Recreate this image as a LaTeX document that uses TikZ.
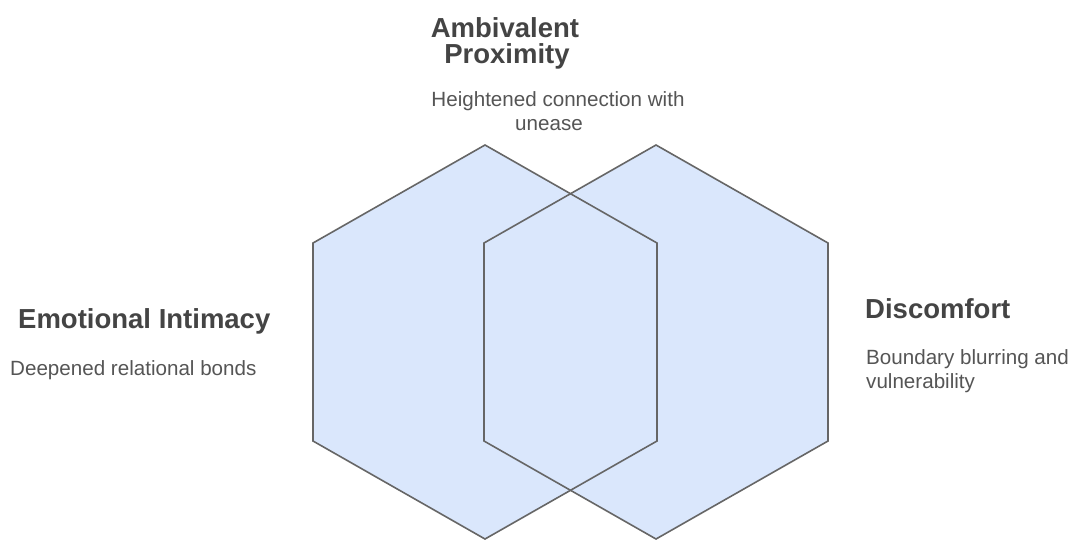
\documentclass[tikz,border=0pt]{standalone}
\usepackage{fontspec}
\setmainfont{Liberation Sans}
\definecolor{hexfill}{HTML}{DAE7FC}
\definecolor{hexline}{HTML}{666666}
\definecolor{titlecol}{HTML}{444444}
\definecolor{desccol}{HTML}{555555}
\tikzset{
  hexshape/.style={draw=hexline, line width=1.6pt, line join=miter},
  titletext/.style={font=\fontsize{27.5}{27}\selectfont\bfseries, text=titlecol, inner sep=0pt, anchor=base west},
  desctext/.style={font=\fontsize{20.6}{24}\selectfont, text=desccol, inner sep=0pt, anchor=base west},
}
\begin{document}
\begin{tikzpicture}[x=1pt, y=-1pt]
  \useasboundingbox (0,0) rectangle (1073,539);
  \fill[white] (0,0) rectangle (1073,539);

  % hexagon corners (pointy top), left and right
  \foreach \n/\cx in {l/485, r/656} {
    \coordinate (\n1) at (\cx,145);
    \coordinate (\n2) at (\cx+172,243);
    \coordinate (\n3) at (\cx+172,441);
    \coordinate (\n4) at (\cx,539);
    \coordinate (\n5) at (\cx-172,441);
    \coordinate (\n6) at (\cx-172,243);
  }

  % fills first, outlines on top so both edges show in the overlap
  \fill[hexfill] (l1) -- (l2) -- (l3) -- (l4) -- (l5) -- (l6) -- cycle;
  \fill[hexfill] (r1) -- (r2) -- (r3) -- (r4) -- (r5) -- (r6) -- cycle;
  \draw[hexshape] (l1) -- (l2) -- (l3) -- (l4) -- (l5) -- (l6) -- cycle;
  \draw[hexshape] (r1) -- (r2) -- (r3) -- (r4) -- (r5) -- (r6) -- cycle;

  % top label
  \node[titletext, anchor=base] (ambA) at (505,37) {Ambivalent};
  \node[titletext, anchor=base] (ambB) at (507,63) {Proximity};
  \node[desctext, anchor=base] (ambC) at (558,106) {Heightened connection with};
  \node[desctext, anchor=base] (ambD) at (549,130) {unease};

  % left label
  \node[titletext] (emoA) at (18,328) {Emotional Intimacy};
  \node[desctext] (emoB) at (10,375) {Deepened relational bonds};

  % right label
  \node[titletext] (disA) at (865,318) {Discomfort};
  \node[desctext] (disB) at (866,364) {Boundary blurring and};
  \node[desctext] (disC) at (866,388) {vulnerability};
\end{tikzpicture}
\end{document}
